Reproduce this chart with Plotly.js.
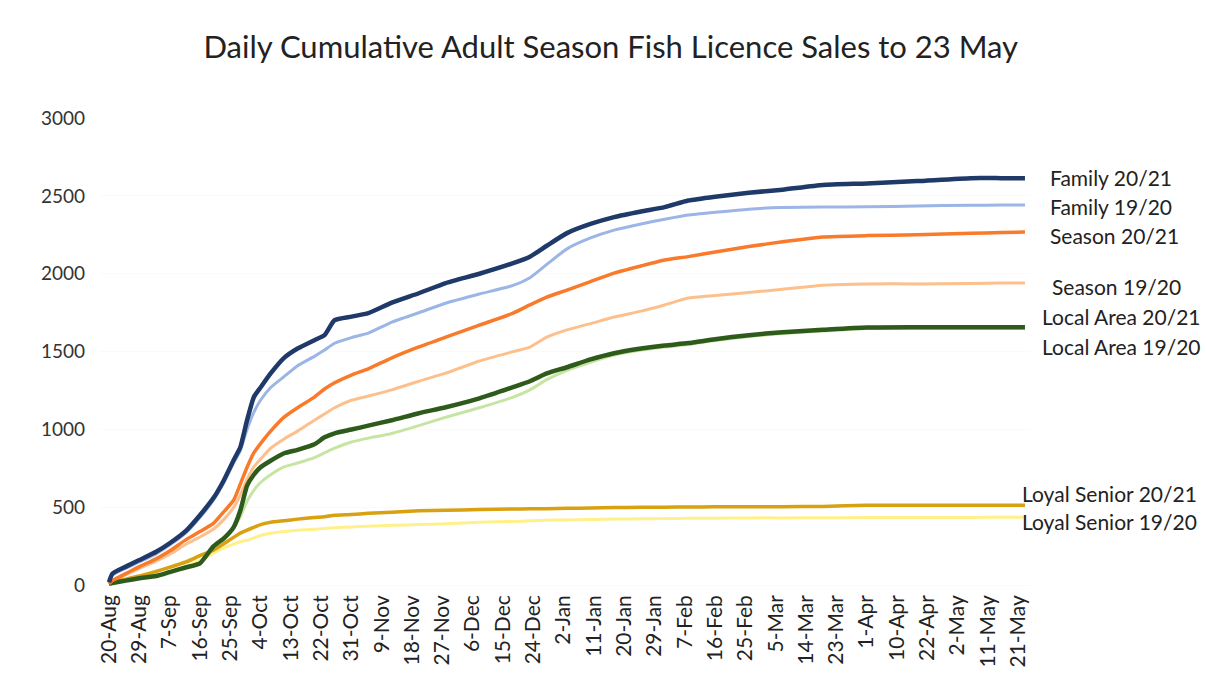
<!DOCTYPE html>
<html>
<head>
<meta charset="utf-8">
<script src="https://cdn.plot.ly/plotly-3.0.1.min.js"></script>
<style>html,body{margin:0;padding:0;background:#fff;}#chart{width:1207px;height:679px;}</style>
</head>
<body>
<div id="chart"></div>
<script>
// Day index since 20-Aug (category position on the axis), sampled points
const dayIndex = [0,1,5,9,14,18,23,27,31,34,37,39,41,43,45,48,52,56,61,64,67,72,77,84,92,100,110,120,125,130,136,143,150,158,165,172,180,190,200,212,225,240,256,265,272];

const tickLabels = ['20-Aug','29-Aug','7-Sep','16-Sep','25-Sep','4-Oct','13-Oct','22-Oct','31-Oct','9-Nov','18-Nov','27-Nov','6-Dec','15-Dec','24-Dec','2-Jan','11-Jan','20-Jan','29-Jan','7-Feb','16-Feb','25-Feb','5-Mar','14-Mar','23-Mar','1-Apr','10-Apr','22-Apr','2-May','11-May','21-May'];

const family2021 = [20,75,120,162,215,270,353,450,560,670,803,886,1060,1208,1270,1360,1460,1520,1574,1606,1702,1725,1747,1815,1875,1940,2000,2068,2110,2180,2261,2320,2364,2400,2428,2470,2495,2520,2540,2570,2580,2595,2614,2614,2614];
const family1920 = [15,65,110,150,202,258,340,435,545,655,785,865,1000,1110,1188,1270,1340,1410,1470,1510,1554,1590,1619,1690,1750,1811,1870,1925,1975,2060,2160,2230,2280,2320,2350,2377,2395,2415,2425,2428,2430,2435,2440,2441,2441];
const season2021 = [10,30,75,120,170,220,295,345,398,470,546,650,758,850,910,990,1080,1140,1208,1260,1300,1350,1390,1460,1530,1593,1670,1747,1800,1850,1895,1950,2004,2050,2088,2110,2140,2175,2205,2236,2245,2250,2260,2265,2268];
const season1920 = [8,28,68,108,155,200,265,310,360,420,500,580,680,760,810,880,940,990,1060,1100,1140,1188,1215,1255,1310,1362,1440,1500,1529,1593,1640,1680,1722,1760,1800,1844,1860,1880,1900,1927,1935,1935,1938,1940,1940];
const local2021 = [10,15,30,45,60,85,116,141,250,300,372,480,640,710,758,800,848,870,905,950,976,1000,1025,1060,1105,1143,1200,1272,1310,1360,1400,1450,1490,1520,1540,1555,1580,1606,1625,1640,1655,1657,1657,1657,1657];
const local1920 = [5,12,30,55,85,118,155,190,235,290,370,440,540,610,660,710,760,785,820,850,880,920,945,975,1025,1079,1140,1208,1255,1320,1380,1432,1478,1510,1530,1546,1571,1597,1617,1632,1648,1650,1650,1650,1650];
const loyal2021 = [10,20,40,60,90,115,150,190,225,265,308,335,355,372,390,405,415,425,435,440,450,455,462,469,478,482,486,490,491,492,494,496,499,501,502,503,504,505,505,506,514,514,514,514,514];
const loyal1920 = [5,10,30,45,65,85,120,160,205,240,265,280,289,305,320,334,345,353,360,365,370,375,380,385,390,395,405,410,414,418,420,422,425,427,429,430,431,433,433,434,435,435,436,437,437];

const seriesNames = ['Local Area 19/20','Loyal Senior 19/20','Season 19/20','Family 19/20','Loyal Senior 20/21','Local Area 20/21','Season 20/21','Family 20/21'];
const seriesValues = [local1920, loyal1920, season1920, family1920, loyal2021, local2021, season2021, family2021];
const seriesColors = ['#c6e5a3','#fff08a','#fdc08c','#9bb5e6','#d9a010','#2e5a1c','#f97a2a','#1f3a68'];
const seriesWidths = [3,3,3,3,3.5,4.5,3.5,4.5];

// Right-hand labels (paper positions)
const labelTexts = ['Family 20/21','Family 19/20','Season 20/21','Season 19/20','Local Area 20/21','Local Area 19/20','Loyal Senior 20/21','Loyal Senior 19/20'];
const labelY = [2615,2435,2248,1921,1728,1535,591,411];
const labelX = [1.019,1.019,1.019,1.0215,1.0108,1.0108,0.989,0.989];

const FONT = 'Lato, "Open Sans", sans-serif';

const traces = seriesNames.map((n, k) => ({
  type: 'scatter', mode: 'lines', name: n,
  x: dayIndex, y: seriesValues[k],
  line: {color: seriesColors[k], width: seriesWidths[k], shape: 'spline', smoothing: 0.5},
  hoverinfo: 'skip'
}));

const annotations = labelTexts.map((t, k) => ({
  text: t, xref: 'paper', yref: 'y', x: labelX[k], y: labelY[k],
  xanchor: 'left', yanchor: 'middle', showarrow: false,
  font: {family: FONT, size: 21, color: '#222'}
}));

const layout = {
  width: 1207, height: 679,
  paper_bgcolor: '#fff', plot_bgcolor: '#fff',
  margin: {l: 100, r: 177, t: 118, b: 89},
  showlegend: false,
  title: {text: 'Daily Cumulative Adult Season Fish Licence Sales to 23 May', x: 0.506, xanchor: 'center', y: 0.93, yanchor: 'middle',
          font: {family: FONT, size: 31, color: '#222'}},
  xaxis: {
    range: [-2.67, 273.5],
    tickmode: 'array',
    tickvals: tickLabels.map((_, k) => k * 9),
    ticktext: tickLabels,
    tickangle: -90,
    showgrid: false, zeroline: false, showline: false, ticks: '',
    tickfont: {family: FONT, size: 21, color: '#222'}
  },
  yaxis: {
    range: [-30, 3000],
    tickvals: [0,500,1000,1500,2000,2500,3000],
    showgrid: true, gridcolor: '#fafafa', zeroline: false, showline: false, ticks: '',
    ticklabelstandoff: 14,
    tickfont: {family: FONT, size: 19, color: '#333'}
  },
  annotations: annotations
};

Plotly.newPlot('chart', traces, layout, {displayModeBar: false, staticPlot: true});
</script>
</body>
</html>
